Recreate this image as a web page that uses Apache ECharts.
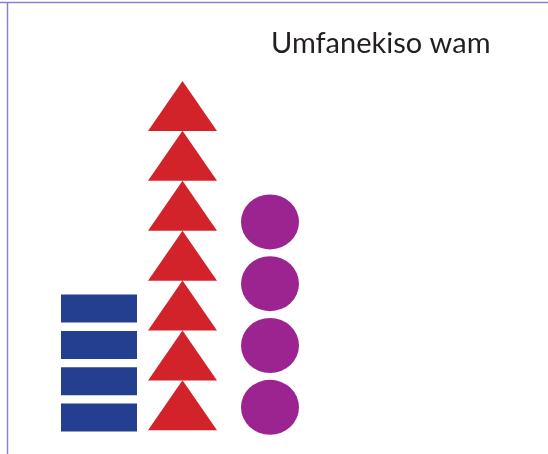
<!DOCTYPE html>
<html>
<head>
<meta charset="utf-8">
<script src="https://cdn.jsdelivr.net/npm/echarts@6/dist/echarts.min.js"></script>
<style>
  html, body { margin: 0; padding: 0; background: #fff; }
  #chart { width: 548px; height: 454px; }
</style>
</head>
<body>
<div id="chart"></div>
<script>
// pictograph: how many of each shape
const categories = ['Izikwere', 'Oonxantathu', 'Izangqa']
const counts = [4, 7, 4]
const shapes = ['rect', 'triangle', 'circle']
const colors = ['#243f8f', '#d2232a', '#9c2490']
const chartTitle = 'Umfanekiso wam'

const chart = echarts.init(document.getElementById('chart'))

// one small grid per column, height = count * spacing of that shape
const symbolSizes = [[76, 28], [69, 50], [58, 55]]
const columnLeft = [61, 148, 241]
const columnWidth = [76, 69, 58]
const columnBottom = [18.2, 23.7, 15.8]
const unitHeight = [36.36, 49.9, 61.8]

const option = {
  animation: false,
  title: {
    text: chartTitle,
    left: 266,
    top: 24,
    textStyle: {
      fontFamily: 'Lato',
      fontWeight: 'normal',
      fontSize: 29,
      color: '#231f20'
    }
  },
  grid: categories.map((c, i) => ({
    left: columnLeft[i],
    width: columnWidth[i],
    bottom: columnBottom[i],
    height: counts[i] * unitHeight[i]
  })),
  xAxis: categories.map((c, i) => ({
    type: 'category',
    gridIndex: i,
    data: [c],
    show: false
  })),
  yAxis: categories.map((c, i) => ({
    type: 'value',
    gridIndex: i,
    min: 0,
    max: counts[i],
    show: false
  })),
  graphic: [
    {
      type: 'line',
      shape: { x1: 0, y1: 2.5, x2: 548, y2: 2.5 },
      style: { stroke: '#8a82c8', lineWidth: 1.5 }
    },
    {
      type: 'line',
      shape: { x1: 7.5, y1: 2, x2: 7.5, y2: 454 },
      style: { stroke: '#8a82c8', lineWidth: 1.5 }
    }
  ],
  series: categories.map((name, i) => ({
    name: name,
    type: 'pictorialBar',
    xAxisIndex: i,
    yAxisIndex: i,
    symbol: shapes[i],
    symbolSize: symbolSizes[i],
    symbolRepeat: counts[i],
    symbolMargin: '1!',
    itemStyle: { color: colors[i] },
    data: [counts[i]]
  }))
}

chart.setOption(option)
</script>
</body>
</html>
